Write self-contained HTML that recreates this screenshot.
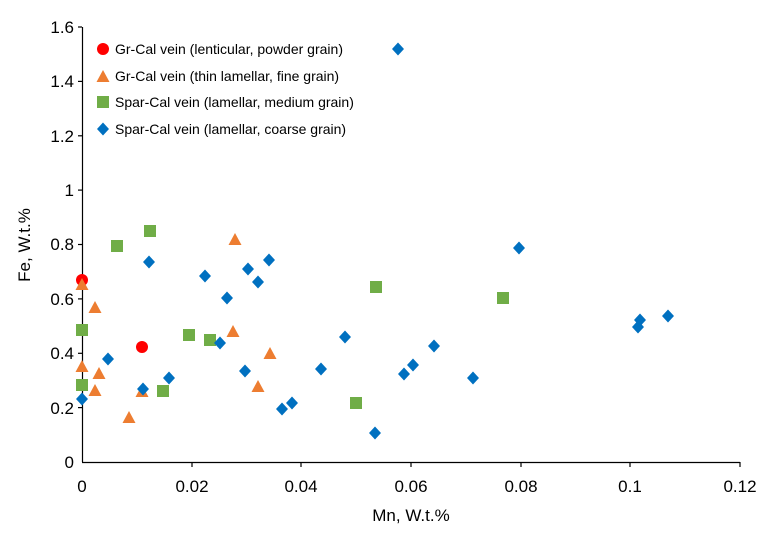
<!DOCTYPE html><html><head><style>body{margin:0;background:#fff}svg text{font-family:"Liberation Sans",sans-serif;fill:#000}</style></head><body>
<svg width="780" height="530" xmlns="http://www.w3.org/2000/svg">
<defs>
<circle id="c" r="6" fill="#ff0000"/>
<polygon id="t" points="0,-7 6.5,5 -6.5,5" fill="#ed7d31"/>
<rect id="s" x="-6" y="-6" width="12" height="12" fill="#70ad47"/>
<polygon id="d" points="0,-6.5 6,0 0,6.5 -6,0" fill="#0070c0"/>
</defs>
<g stroke="#000" stroke-width="1.2">
<line x1="82.5" y1="27" x2="82.5" y2="462"/><line x1="82" y1="462.5" x2="740" y2="462.5"/>
<line x1="78" y1="27" x2="82" y2="27"/><line x1="78" y1="81.4" x2="82" y2="81.4"/><line x1="78" y1="135.8" x2="82" y2="135.8"/><line x1="78" y1="190.1" x2="82" y2="190.1"/><line x1="78" y1="244.5" x2="82" y2="244.5"/><line x1="78" y1="298.9" x2="82" y2="298.9"/><line x1="78" y1="353.3" x2="82" y2="353.3"/><line x1="78" y1="407.6" x2="82" y2="407.6"/>
<line x1="192" y1="462" x2="192" y2="467"/><line x1="301" y1="462" x2="301" y2="467"/><line x1="411" y1="462" x2="411" y2="467"/><line x1="521" y1="462" x2="521" y2="467"/><line x1="630" y1="462" x2="630" y2="467"/><line x1="740" y1="462" x2="740" y2="467"/>
</g>
<g font-size="17" text-anchor="end">
<text x="74" y="33">1.6</text><text x="74" y="87">1.4</text><text x="74" y="142">1.2</text><text x="74" y="196">1</text><text x="74" y="250">0.8</text><text x="74" y="305">0.6</text><text x="74" y="359">0.4</text><text x="74" y="414">0.2</text><text x="74" y="468">0</text>
</g>
<g font-size="17" text-anchor="middle">
<text x="82" y="492">0</text><text x="192" y="492">0.02</text><text x="301" y="492">0.04</text><text x="411" y="492">0.06</text><text x="521" y="492">0.08</text><text x="630" y="492">0.1</text><text x="740" y="492">0.12</text>
<text x="411" y="521">Mn, W.t.%</text>
<text transform="translate(30,245) rotate(-90)">Fe, W.t.%</text>
</g>
<use href="#c" x="82" y="280"/><use href="#c" x="142" y="347"/>
<g>
<use href="#t" x="82" y="285"/><use href="#t" x="95" y="308"/><use href="#t" x="82" y="367"/><use href="#t" x="99" y="374"/><use href="#t" x="95" y="391"/><use href="#t" x="142" y="392"/><use href="#t" x="129" y="418"/><use href="#t" x="235" y="240"/><use href="#t" x="233" y="332"/><use href="#t" x="270" y="354"/><use href="#t" x="258" y="387"/>
</g>
<g>
<use href="#s" x="117" y="246"/><use href="#s" x="150" y="231"/><use href="#s" x="82" y="330"/><use href="#s" x="82" y="385"/><use href="#s" x="189" y="335"/><use href="#s" x="210" y="340"/><use href="#s" x="163" y="391"/><use href="#s" x="376" y="287"/><use href="#s" x="356" y="403"/><use href="#s" x="503" y="298"/>
</g>
<g>
<use href="#d" x="398" y="49"/><use href="#d" x="149" y="262"/><use href="#d" x="205" y="276"/><use href="#d" x="248" y="269"/><use href="#d" x="269" y="260"/><use href="#d" x="258" y="282"/><use href="#d" x="227" y="298"/><use href="#d" x="220" y="343"/><use href="#d" x="108" y="359"/><use href="#d" x="143" y="389"/><use href="#d" x="169" y="378"/><use href="#d" x="245" y="371"/><use href="#d" x="282" y="409"/><use href="#d" x="292" y="403"/><use href="#d" x="321" y="369"/><use href="#d" x="345" y="337"/><use href="#d" x="404" y="374"/><use href="#d" x="413" y="365"/><use href="#d" x="434" y="346"/><use href="#d" x="473" y="378"/><use href="#d" x="375" y="433"/><use href="#d" x="519" y="248"/><use href="#d" x="638" y="327"/><use href="#d" x="640" y="320"/><use href="#d" x="668" y="316"/><use href="#d" x="82" y="399"/>
</g>
<g font-size="14">
<use href="#c" x="103" y="49"/><text x="115" y="54">Gr-Cal vein (lenticular, powder grain)</text>
<use href="#t" x="103" y="77"/><text x="115" y="81">Gr-Cal vein (thin lamellar, fine grain)</text>
<use href="#s" x="103" y="102"/><text x="115" y="107">Spar-Cal vein (lamellar, medium grain)</text>
<use href="#d" x="103" y="129"/><text x="115" y="134">Spar-Cal vein (lamellar, coarse grain)</text>
</g>
</svg></body></html>
